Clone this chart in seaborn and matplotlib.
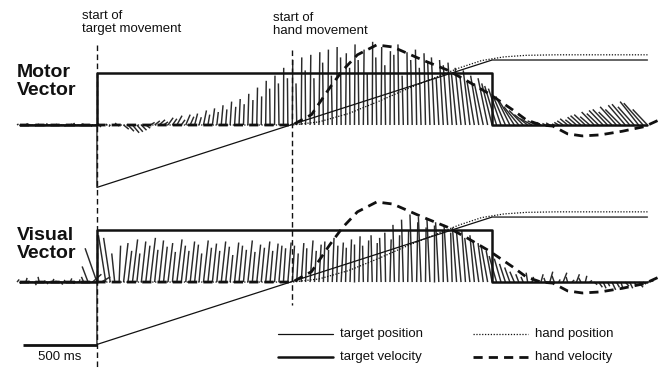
import numpy as np
import pandas as pd
import matplotlib
matplotlib.use("Agg")
import matplotlib.pyplot as plt
from matplotlib.collections import LineCollection
import seaborn as sns

sns.set_style("white")
plt.rcParams["font.family"] = ["Liberation Sans", "DejaVu Sans"]

# ---------------- data (time in ms, amplitude in normalised units) ----------------
TARGET_ONSET = 0
HAND_ONSET = 1320

target_pos_t = [-520, 0, 0, 2670, 3720]
target_pos_v = [0.0, 0.0, -1.2, 1.25, 1.25]

target_vel_t = [-520, 0, 0, 2670, 2670, 3720]
target_vel_v = [0.0, 0.0, 1.0, 1.0, 0.0, 0.0]

hand_pos_t = [-520, 1320, 1500, 1700, 1900, 2100, 2300, 2450, 2600, 2750, 2900, 3100, 3720]
hand_pos_v = [0.0, 0.0, 0.06, 0.22, 0.45, 0.7, 0.93, 1.1, 1.24, 1.31, 1.34, 1.35, 1.35]

hand_vel_t = [-520, 1320, 1450, 1574, 1660, 1760, 1890, 2000, 2200, 2365, 2500, 2650,
              2810, 2900, 3000, 3080, 3180, 3280, 3400, 3550, 3700, 3800]
hand_vel_v = [0.0, 0.0, 0.2, 0.72, 1.05, 1.35, 1.54, 1.5, 1.25, 1.06, 0.85, 0.6,
              0.29, 0.1, 0.0, -0.02, -0.17, -0.21, -0.19, -0.12, -0.03, 0.1]

# sample times of the population vectors (every 30 ms)
vec_t = list(range(-540, 3721, 30))

motor_dy = [0.02, -0.01, 0.03, 0.01, -0.02, 0.02, 0.0, 0.03, -0.01, 0.02,
            0.01, -0.03, 0.02, 0.04, -0.02, 0.03, 0.01, -0.03,
            0.03, -0.04, 0.02, -0.03, 0.04, -0.02,
            -0.08, -0.12, -0.15, -0.13, -0.1, -0.06,
            0.05, 0.08, 0.1, 0.06, 0.14, 0.12, 0.18, 0.1, 0.2, 0.16,
            0.22, 0.15, 0.28, 0.2, 0.32, 0.25, 0.38, 0.3, 0.45, 0.35,
            0.5, 0.4, 0.6, 0.48, 0.72, 0.55, 0.85, 0.7, 0.95, 0.8, 1.1, 0.9,
            1.25, 0.8, 1.3, 1.05, 1.35, 0.9, 1.4, 1.2, 1.45, 0.95, 1.5, 1.3, 1.38, 1.1, 1.55, 1.25,
            1.45, 1.0, 1.6, 1.3, 1.5, 1.15, 1.42, 1.35, 1.55, 0.95, 1.4, 1.25, 1.45, 1.1, 1.38,
            1.2, 1.3, 0.9, 1.25, 1.15, 1.2, 1.0, 1.1, 0.95, 1.05, 0.85, 0.95, 0.8, 0.9,
            0.8, 0.75, 0.7, 0.6, 0.55, 0.45, 0.35, 0.28, 0.2, 0.12, 0.08,
            0.05, 0.03, 0.04, 0.02, 0.05,
            0.08, 0.12, 0.1, 0.15, 0.18, 0.2, 0.16, 0.25, 0.22, 0.28,
            0.3, 0.25, 0.35, 0.3, 0.38, 0.4, 0.35, 0.45, 0.42, 0.3]
motor_dx = [10, -8, 12, -5, 8, -10, 6, -12, 9, -6,
            7, -9, 11, -7, 10, -8, 6, -10,
            12, -10, 8, -9, 10, -8,
            35, 40, 45, 40, 35, 30,
            30, 35, 40, 30, 35, 30, 35, 25, 30, 25,
            20, 15, 20, 12, 15, 10, 12, 8, 10, 8,
            8, 5, 6, 4, 5, 3, 4, -3, 3, -4, 2, -3,
            3, -5, 4, -3, 5, -4, 6, -5, 4, -6, 3, -4, 5, -3, 4, -5,
            5, -4, 3, -6, 4, -5, 3, -4, -6, -8, -5, -10, -8, -12, -10,
            -15, -20, -18, -25, -30, -28, -35, -40, -38, -45, -50, -55, -60, -65,
            -70, -80, -85, -90, -95, -100, -100, -95, -90, -80, -60,
            -30, -20, -25, -15, -30,
            -40, -50, -45, -60, -70, -75, -65, -85, -80, -95,
            -100, -90, -110, -105, -115, -120, -110, -125, -130, -100]

visual_dy = [0.05, -0.03, 0.08, 0.02, -0.06, 0.1, 0.03, -0.04, 0.06, 0.02,
             -0.05, 0.04, 0.07, -0.03, 0.05, 0.1, 0.3, 0.15,
             0.65, 0.1, 0.9, 0.85, 0.55, 0.7,
             0.75, 0.6, 0.82, 0.55, 0.78, 0.7, 0.85, 0.62, 0.8, 0.68,
             0.75, 0.58, 0.82, 0.7, 0.6, 0.78, 0.72, 0.55, 0.8, 0.66,
             0.74, 0.6, 0.78, 0.68, 0.52, 0.76, 0.7, 0.62, 0.8, 0.58,
             0.72, 0.66, 0.78, 0.6, 0.74, 0.7, 0.65, 0.76,
             0.7, 0.55, 0.75, 0.65, 0.8, 0.6, 0.72, 0.78, 0.62, 0.85,
             0.7, 0.76, 0.66, 0.82, 0.74, 0.88, 0.7, 0.8, 0.9, 0.75, 0.85,
             0.95, 0.82, 1.1, 0.9, 1.2, 1.0, 1.3, 1.15, 1.25, 1.05,
             1.2, 1.1, 1.15, 1.0, 1.1, 0.95, 1.05,
             0.95, 1.0, 0.85, 0.9, 0.8, 0.75, 0.7, 0.6, 0.5, 0.45, 0.35,
             0.28, 0.2, 0.15, 0.1, 0.18,
             0.1, 0.05, 0.15, 0.08, 0.2, 0.12, 0.05, 0.18, 0.1, 0.04,
             0.15, 0.08, 0.12, 0.03, -0.05, -0.1, -0.12, -0.08, -0.15, -0.1,
             -0.13, -0.08, -0.12, -0.06, -0.1, -0.04, 0.02]
visual_dx = [15, -10, 8, -12, 10, -8, 12, -6, 9, -10,
             8, -12, 10, -8, 6, -15, -40, 60,
             -80, 60, -50, -45, -20, 10,
             30, 25, 35, 20, 30, 28, 35, 22, 30, 25,
             32, 20, 35, 28, 22, 30, 26, 18, 32, 24,
             28, 20, 30, 25, 18, 28, 24, 20, 30, 18,
             26, 22, 28, 18, 24, 20, 15, 22,
             15, 10, 18, 8, 20, 12, 15, 10, 5, 12,
             8, 15, 5, 10, 0, 8, -5, 6, -8, 4, -10,
             -5, 8, -10, 5, -12, 6, -15, 8, -18, 4,
             -20, 0, -22, -5, -25, -10, -28,
             -30, -25, -35, -30, -40, -35, -45, -40, -50, -45, -40,
             -35, -30, -20, -15, -10,
             10, -20, 15, -10, 20, -15, 10, 25, -10, 15,
             20, -15, 10, 15, 20, 25, 20, 15, 25, 20,
             15, 25, 20, 15, 30, 20, 40]

# (title, vertical offset of the panel baseline, title top, vectors)
panels = [("Motor\nVector", 0.0, 1.18, motor_dx, motor_dy),
          ("Visual\nVector", -3.02, -1.96, visual_dx, visual_dy)]

# ---------------- figure ----------------
fig = plt.figure(figsize=(6.62, 3.69), dpi=100)
ax = fig.add_axes([0, 0, 1, 1])
ax.set_xlim(-655, 3818)
ax.set_ylim(-4.692, 2.404)
ax.axis("off")

ink = "#111111"
for title, off, title_y, dxs, dys in panels:
    segs = [[(t, off), (t + dx, off + dy)] for t, dx, dy in zip(vec_t, dxs, dys)]
    ax.add_collection(LineCollection(segs, colors="#2a2a2a", linewidths=1.05, zorder=2))

    sns.lineplot(x=target_vel_t, y=np.array(target_vel_v) + off, estimator=None, sort=False,
                 color=ink, linewidth=1.8, ax=ax, zorder=4)
    sns.lineplot(x=target_pos_t, y=np.array(target_pos_v) + off, estimator=None, sort=False,
                 color=ink, linewidth=0.9, ax=ax, zorder=4)
    sns.lineplot(x=hand_pos_t, y=np.array(hand_pos_v) + off, estimator=None, sort=False,
                 color=ink, linewidth=0.9, linestyle=(0, (1, 1.3)), ax=ax, zorder=4)
    sns.lineplot(x=hand_vel_t, y=np.array(hand_vel_v) + off, estimator=None, sort=False,
                 color=ink, linewidth=2.0, linestyle=(0, (3.3, 2.2)), ax=ax, zorder=4)

    ax.text(-540, title_y, title, fontsize=14, fontweight="bold", ha="left", va="top",
            linespacing=1.12, color=ink)

# event markers
ax.plot([TARGET_ONSET, TARGET_ONSET], [1.54, -4.69], color=ink, lw=1.0,
        linestyle=(0, (4, 2.5)), zorder=3)
ax.plot([HAND_ONSET, HAND_ONSET], [1.44, -3.46], color=ink, lw=1.0,
        linestyle=(0, (4, 2.5)), zorder=3)
ax.text(-100, 2.22, "start of\ntarget movement", fontsize=9.5, ha="left", va="top",
        linespacing=1.15, color=ink)
ax.text(1190, 2.18, "start of\nhand movement", fontsize=9.5, ha="left", va="top",
        linespacing=1.15, color=ink)

# time scale bar
ax.plot([-500, 0], [-4.23, -4.23], color=ink, lw=2.0, solid_capstyle="butt")
ax.text(-250, -4.46, "500 ms", fontsize=9.5, ha="center", va="center", color=ink)

# legend
legend_rows = [
    ("target position", -4.02, 1223, dict(lw=0.9, linestyle="-")),
    ("target velocity", -4.46, 1223, dict(lw=1.8, linestyle="-")),
    ("hand position", -4.02, 2540, dict(lw=0.9, linestyle=(0, (1, 1.3)))),
    ("hand velocity", -4.46, 2540, dict(lw=2.0, linestyle=(0, (3.3, 2.2)))),
]
for label, y, x0, style in legend_rows:
    ax.plot([x0, x0 + 372], [y, y], color=ink, **style)
    ax.text(x0 + 420, y, label, fontsize=9.5, ha="left", va="center", color=ink)

fig.savefig("out.png", dpi=100)
